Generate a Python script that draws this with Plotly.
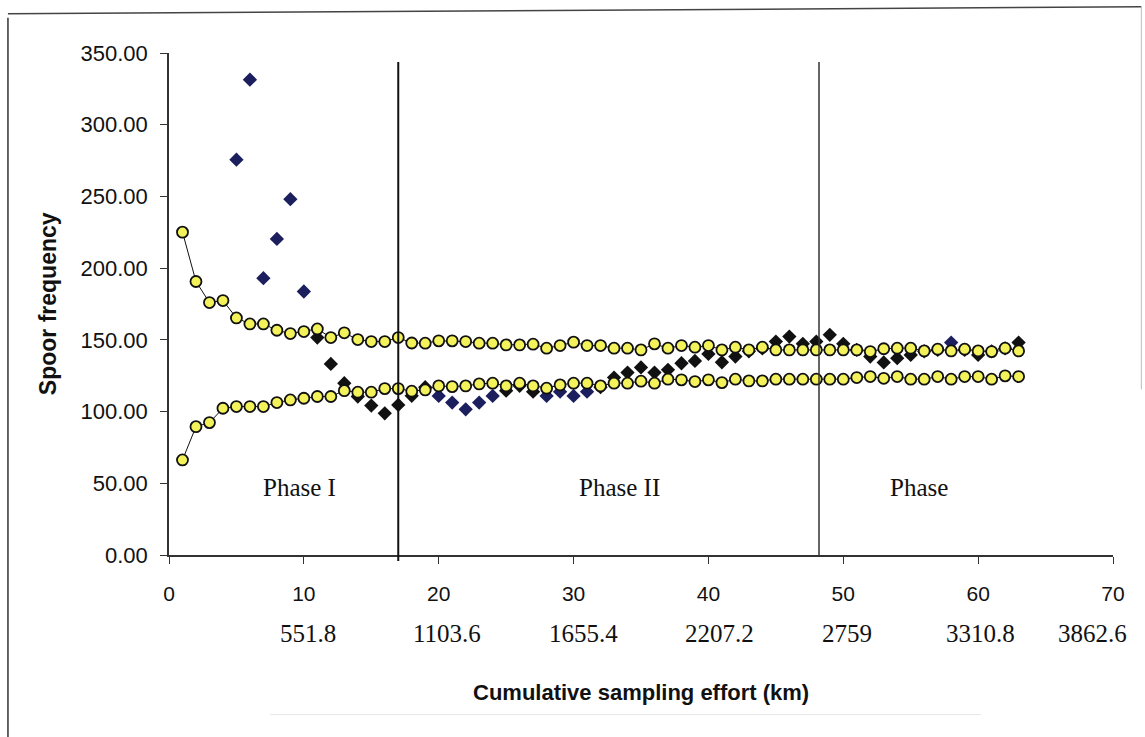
import plotly.graph_objects as go

# ---- data ----
effort_idx = list(range(1, 64))
upper_ci = [225.1, 190.7, 176.0, 177.4, 165.3, 161.1, 161.1, 156.7, 154.4, 155.8,
            157.6, 151.6, 154.9, 150.2, 148.8, 148.8, 151.6, 147.8, 147.7, 149.3,
            149.3, 148.8, 147.7, 147.7, 146.5, 146.5, 147.0, 144.2, 146.0, 148.4,
            146.0, 146.0, 144.2, 144.2, 143.0, 147.2, 144.2, 146.0, 144.9, 146.0,
            143.0, 144.9, 143.0, 144.9, 143.0, 143.0, 143.0, 143.0, 143.0, 143.0,
            143.0, 141.8, 143.8, 144.2, 144.2, 142.3, 143.5, 142.3, 143.5, 142.3,
            141.8, 144.2, 142.3]
lower_ci = [66.3, 89.5, 92.3, 102.3, 103.5, 103.5, 103.5, 106.3, 108.1, 109.3,
            110.5, 110.5, 114.6, 113.5, 113.5, 116.0, 116.0, 114.2, 115.1, 117.9,
            117.4, 117.9, 119.3, 119.8, 117.9, 119.8, 117.9, 116.3, 118.6, 119.8,
            119.8, 117.9, 119.8, 119.8, 121.2, 119.8, 122.6, 122.1, 120.9, 122.1,
            120.2, 122.6, 121.4, 121.4, 122.6, 122.6, 122.6, 122.6, 122.6, 122.6,
            123.7, 124.4, 123.2, 124.4, 122.6, 122.6, 124.4, 122.6, 124.4, 124.4,
            122.6, 124.9, 124.4]
est_idx = list(range(5, 64))
estimate = [275.6, 331.4, 193.0, 220.4, 248.1, 183.7, 151.6, 133.2, 119.8, 110.5,
            104.2, 98.8, 104.6, 111.0, 117.0, 110.9, 106.3, 101.6, 106.3, 110.9,
            114.6, 118.0, 113.9, 110.9, 113.9, 110.9, 113.9, 117.0, 123.7, 127.2,
            130.8, 127.2, 129.1, 133.7, 135.3, 140.2, 134.4, 138.4, 142.0, 144.0,
            148.8, 152.3, 147.2, 148.8, 153.5, 147.2, 143.0, 138.4, 134.3, 137.2,
            139.5, 142.0, 143.0, 148.1, 143.0, 139.5, 142.0, 144.0, 148.1]
navy_points = [5, 6, 7, 8, 9, 10, 20, 21, 22, 23, 24, 28, 29, 30, 31, 58]

x_ticks = [0, 10, 20, 30, 40, 50, 60, 70]
km_labels = ["551.8", "1103.6", "1655.4", "2207.2", "2759", "3310.8", "3862.6"]
km_label_x = [10.3, 20.6, 30.7, 40.8, 50.3, 60.2, 68.5]
phase_lines = [17, 48.2]
phase_text = ["Phase I", "Phase II", "Phase"]
phase_text_x = [9.7, 33.4, 55.6]
phase_text_y = 47.4

SANS = "Liberation Sans, Arial, sans-serif"
SERIF = "Liberation Serif, Times New Roman, serif"

# per-point styling
est_colors = ["#1b1f5e" if i in navy_points else "#111111" for i in est_idx]

fig = go.Figure()
fig.add_trace(go.Scatter(
    x=est_idx, y=estimate, mode="markers",
    marker=dict(symbol="diamond", size=11, color=est_colors, line=dict(width=0)),
    showlegend=False, cliponaxis=False))
for series in (upper_ci, lower_ci):
    fig.add_trace(go.Scatter(
        x=effort_idx, y=series, mode="lines+markers",
        line=dict(color="#111111", width=1),
        marker=dict(symbol="circle", size=11, color="#f4f25a",
                    line=dict(color="#111111", width=1.8)),
        showlegend=False, cliponaxis=False))

shapes = []
for i, px in enumerate(phase_lines):
    shapes.append(dict(type="line", xref="x", yref="paper", x0=px, x1=px,
                       y0=-0.012 if i == 0 else -0.004, y1=0.982,
                       line=dict(color="#111111" if i == 0 else "#333333",
                                 width=2 if i == 0 else 1.5)))
# scanned page frame
shapes.append(dict(type="line", xref="paper", yref="paper", x0=-0.1706, x1=-0.1706,
                   y0=1.07, y1=-0.37, line=dict(color="#333333", width=1.5)))
shapes.append(dict(type="line", xref="paper", yref="paper", x0=-0.1706, x1=1.03,
                   y0=1.078, y1=1.092, line=dict(color="#444444", width=1.5)))
shapes.append(dict(type="line", xref="paper", yref="paper", x0=1.03, x1=1.03,
                   y0=1.092, y1=0.33, line=dict(color="#bbbbbb", width=1)))
shapes.append(dict(type="line", xref="paper", yref="paper", x0=0.107, x1=0.86,
                   y0=-0.318, y1=-0.318, line=dict(color="#e6e6e6", width=1)))

annotations = []
for t, xv in zip(km_labels, km_label_x):
    annotations.append(dict(x=xv, y=-0.1554, xref="x", yref="paper", text=t,
                            showarrow=False, xanchor="center", yanchor="middle",
                            font=dict(family=SERIF, size=25, color="#111111")))
for t, xv in zip(phase_text, phase_text_x):
    annotations.append(dict(x=xv, y=phase_text_y, xref="x", yref="y", text=t,
                            showarrow=False, xanchor="center", yanchor="middle",
                            font=dict(family=SERIF, size=25, color="#111111")))
annotations.append(dict(x=0.5, y=-0.273, xref="paper", yref="paper",
                        text="<b>Cumulative sampling effort (km)</b>", showarrow=False,
                        xanchor="center", yanchor="middle",
                        font=dict(family=SANS, size=22, color="#111111")))
annotations.append(dict(x=-0.128, y=0.5, xref="paper", yref="paper",
                        text="<b>Spoor frequency</b>", showarrow=False, textangle=-90,
                        xanchor="center", yanchor="middle",
                        font=dict(family=SANS, size=23, color="#111111")))

fig.update_layout(
    width=1145, height=737,
    margin=dict(l=169, r=32, t=53, b=182),
    paper_bgcolor="white", plot_bgcolor="white",
    shapes=shapes, annotations=annotations,
    xaxis=dict(range=[0, 70], tickvals=x_ticks, ticks="outside", ticklen=7,
               tickcolor="#333333", showline=True, linecolor="#333333", linewidth=1.5,
               showgrid=False, zeroline=False, ticklabelstandoff=12,
               tickfont=dict(family=SANS, size=21, color="#111111")),
    yaxis=dict(range=[0, 350], dtick=50, tickformat=".2f", ticks="outside", ticklen=7,
               tickcolor="#333333", showline=True, linecolor="#333333", linewidth=1.5,
               showgrid=False, zeroline=False, ticklabelstandoff=8,
               tickfont=dict(family=SANS, size=22, color="#111111")),
)

fig.write_html("out.html")
